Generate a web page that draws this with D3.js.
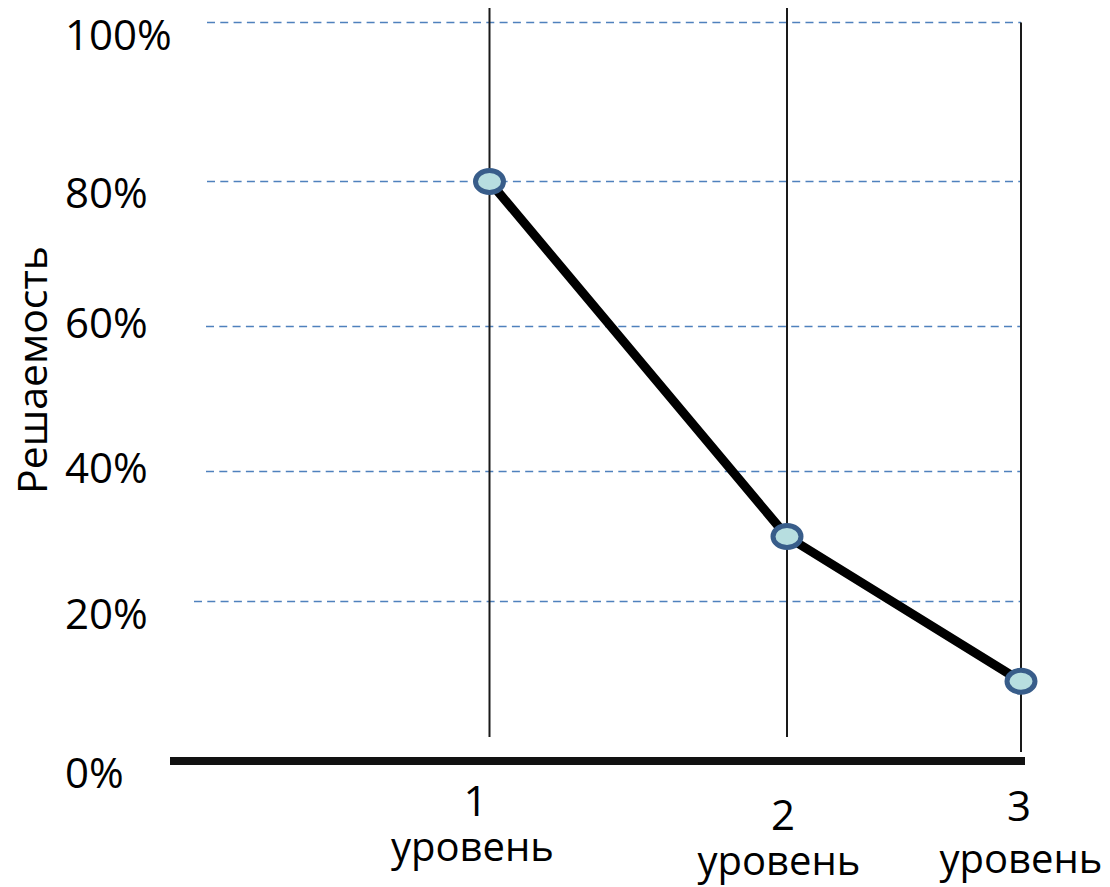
<!DOCTYPE html>
<html>
<head>
<meta charset="utf-8">
<script src="https://cdn.jsdelivr.net/npm/d3@7"></script>
<style>
  html, body { margin: 0; padding: 0; background: #fff; }
  svg { display: block; }
  text { font-family: "Open Sans", "Noto Sans", sans-serif; fill: #000; }
</style>
</head>
<body>
<svg id="chart" width="1110" height="887"></svg>
<script>
// ---- data ----
const categories = ["1", "2", "3"];
const categoryWord = "уровень";
const values = [80, 30, 10];           // Решаемость, %
const yTicks = [0, 20, 40, 60, 80, 100];
const yTickLabels = ["0%", "20%", "40%", "60%", "80%", "100%"];
const yTitle = "Решаемость";

// ---- layout ----
const svg = d3.select("#chart");

// hand-spaced value axis (as in the original drawing)
const y = d3.scaleLinear()
  .domain(yTicks)
  .range([761, 601.5, 471.5, 326.5, 181.5, 22.5]);

const x = d3.scaleOrdinal()
  .domain(categories)
  .range([489.5, 787, 1021]);

const gridStart = { 20: 194, 40: 206, 60: 206, 80: 207, 100: 207 };
const gridEnd = 1021;
const labelOffset = { 0: 27, 20: 27, 40: 11, 60: 11, 80: 26, 100: 27 };

// gridlines
svg.append("g").selectAll("line")
  .data(yTicks.filter(d => d > 0))
  .join("line")
  .attr("x1", d => gridStart[d])
  .attr("x2", gridEnd)
  .attr("y1", d => y(d))
  .attr("y2", d => y(d))
  .attr("stroke", "#4F81BD")
  .attr("stroke-width", 1.6)
  .attr("stroke-dasharray", "8 5.3");

// vertical category lines
const vTop = { "1": 8, "2": 8, "3": 22.5 };
const vBottom = { "1": 737, "2": 737, "3": 752 };
svg.append("g").selectAll("line")
  .data(categories)
  .join("line")
  .attr("x1", d => x(d)).attr("x2", d => x(d))
  .attr("y1", d => vTop[d]).attr("y2", d => vBottom[d])
  .attr("stroke", "#1a1a1a")
  .attr("stroke-width", 2);

// baseline (0%)
svg.append("line")
  .attr("x1", 170).attr("x2", 1025)
  .attr("y1", y(0)).attr("y2", y(0))
  .attr("stroke", "#111")
  .attr("stroke-width", 8);

// y tick labels
svg.append("g").selectAll("text")
  .data(yTicks)
  .join("text")
  .attr("x", 65)
  .attr("y", d => y(d) + labelOffset[d])
  .attr("font-size", 42)
  .text((d, i) => yTickLabels[i]);

// y title
svg.append("text")
  .attr("transform", "translate(47,370) rotate(-90)")
  .attr("text-anchor", "middle")
  .attr("font-size", 41)
  .text(yTitle);

// category labels
const numBase = { "1": 816, "2": 830, "3": 821 };
const wordBase = { "1": 861, "2": 875, "3": 873 };
const numDx = { "1": -14, "2": -4, "3": -2 };
const wordDx = { "1": -17, "2": -8, "3": 0 };
const catG = svg.append("g").attr("text-anchor", "middle");
catG.selectAll("text.num")
  .data(categories)
  .join("text")
  .attr("class", "num")
  .attr("x", d => x(d) + numDx[d])
  .attr("y", d => numBase[d])
  .attr("font-size", 42)
  .text(d => d);
catG.selectAll("text.word")
  .data(categories)
  .join("text")
  .attr("class", "word")
  .attr("x", d => x(d) + wordDx[d])
  .attr("y", d => wordBase[d])
  .attr("font-size", 40)
  .text(categoryWord);

// series line
const pts = categories.map((c, i) => [x(c), y(values[i])]);
svg.append("path")
  .attr("d", d3.line()(pts))
  .attr("fill", "none")
  .attr("stroke", "#000")
  .attr("stroke-width", 9)
  .attr("stroke-linejoin", "round");

// markers
svg.append("g").selectAll("ellipse")
  .data(categories)
  .join("ellipse")
  .attr("cx", d => x(d))
  .attr("cy", (d, i) => y(values[i]))
  .attr("rx", 14)
  .attr("ry", 11)
  .attr("fill", "#B7DEE0")
  .attr("stroke", "#385D8A")
  .attr("stroke-width", 5);
</script>
</body>
</html>
